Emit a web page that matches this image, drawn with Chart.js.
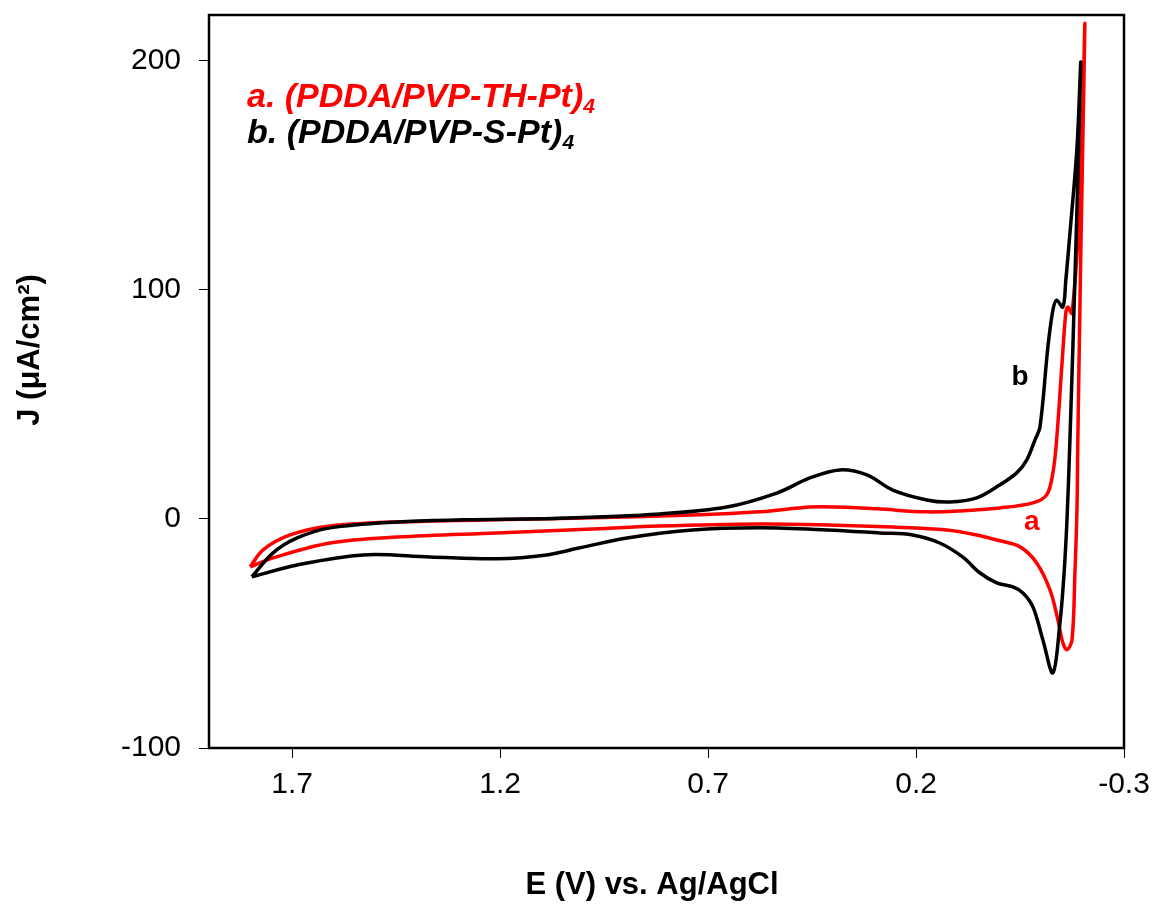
<!DOCTYPE html>
<html>
<head>
<meta charset="utf-8">
<script src="https://cdn.jsdelivr.net/npm/chart.js@4.4.0/dist/chart.umd.min.js"></script>
<style>
  body { margin: 0; background: #fff; }
  #cv { display: block; }
</style>
</head>
<body>
<canvas id="cv" width="1156" height="904"></canvas>
<script>
// ---- data (E in V vs Ag/AgCl, J in uA/cm2) ----
// curve a, (PDDA/PVP-TH-Pt)4 : forward (upper) branch then return (lower) branch
const aFwdE = [1.801, 1.770, 1.705, 1.609, 1.448, 1.008, 0.737, 0.575, 0.455, 0.390, 0.294, 0.174, 0.095, -0.001, -0.081, -0.114, -0.129, -0.138, -0.151, -0.160, -0.165, -0.175, -0.194, -0.206];
const aFwdJ = [-20.9, -13.5, -7.0, -3.1, -1.3, 0.4, 1.7, 3.1, 5.2, 5.2, 4.4, 3.1, 3.5, 4.8, 7.0, 10.5, 20.1, 34.5, 68.0, 89.8, 92.5, 89.8, 139.1, 216.3];
const aRevE = [-0.206, -0.197, -0.189, -0.187, -0.182, -0.175, -0.163, -0.153, -0.141, -0.122, -0.090, -0.050, 0.006, 0.054, 0.126, 0.256, 0.414, 0.575, 0.816, 1.008, 1.208, 1.448, 1.609, 1.746, 1.801];
const aRevJ = [216.3, 125.0, 34.5, 4.8, -23.5, -52.8, -57.1, -54.1, -44.0, -31.0, -19.2, -12.2, -9.2, -7.0, -4.8, -3.5, -2.6, -2.2, -3.1, -4.6, -6.1, -7.9, -10.5, -17.0, -20.9];

// curve b, (PDDA/PVP-S-Pt)4
const bFwdE = [1.797, 1.746, 1.688, 1.609, 1.448, 1.289, 1.056, 0.816, 0.655, 0.535, 0.455, 0.383, 0.318, 0.256, 0.174, 0.119, 0.054, -0.001, -0.042, -0.066, -0.086, -0.098, -0.117, -0.129, -0.138, -0.153, -0.160, -0.170, -0.187, -0.196];
const bFwdJ = [-25.3, -14.8, -8.3, -3.9, -1.3, -0.4, 0.3, 2.2, 5.2, 11.3, 17.9, 21.4, 19.2, 12.6, 8.3, 7.4, 9.2, 14.8, 20.1, 25.7, 34.5, 40.1, 75.0, 91.1, 95.5, 92.5, 104.0, 124.7, 162.2, 198.9];
const bRevE = [-0.196, -0.184, -0.170, -0.163, -0.156, -0.146, -0.129, -0.105, -0.081, -0.057, -0.033, 0.006, 0.047, 0.088, 0.143, 0.208, 0.287, 0.414, 0.575, 0.737, 0.895, 1.008, 1.088, 1.208, 1.369, 1.530, 1.688, 1.797];
const bRevJ = [198.9, 117.0, 34.5, 0.0, -23.5, -45.4, -67.2, -52.8, -38.4, -32.3, -29.7, -27.9, -23.5, -16.6, -10.5, -7.0, -6.1, -4.8, -3.9, -4.8, -8.3, -12.6, -15.7, -17.4, -16.6, -15.7, -20.1, -25.3];

const xTicks = [1.7, 1.2, 0.7, 0.2, -0.3];
const yTicks = [-100, 0, 100, 200];

const FONT = "'Liberation Sans', Arial, sans-serif";

function toPoints(es, js) {
    return es.map((e, i) => ({ x: e, y: js[i] }));
}

// Axis titles, frame, legend text and curve labels
const decor = {
    id: 'decor',
    afterDraw(chart) {
        const { ctx, chartArea: a, scales: { x, y } } = chart;
        ctx.save();
        // box
        ctx.strokeStyle = '#000';
        ctx.lineWidth = 2.5;
        ctx.strokeRect(a.left, a.top, a.right - a.left, a.bottom - a.top);

        // axis titles
        ctx.fillStyle = '#000';
        ctx.font = 'bold 31px ' + FONT;
        ctx.textAlign = 'center';
        ctx.textBaseline = 'middle';
        ctx.fillText('E (V) vs. Ag/AgCl', 652, 885);
        ctx.save();
        ctx.translate(30, 350);
        ctx.rotate(-Math.PI / 2);
        ctx.fillText('J (\u03bcA/cm\u00b2)', 0, 0);
        ctx.restore();

        // legend lines with subscript
        ctx.textAlign = 'left';
        ctx.textBaseline = 'alphabetic';
        const legend = [
            { text: 'a. (PDDA/PVP-TH-Pt)', color: '#ff0000', base: 107 },
            { text: 'b. (PDDA/PVP-S-Pt)', color: '#000000', base: 143 }
        ];
        legend.forEach(l => {
            ctx.fillStyle = l.color;
            ctx.font = 'italic bold 34px ' + FONT;
            ctx.fillText(l.text, 247, l.base);
            const w = ctx.measureText(l.text).width;
            ctx.font = 'italic bold 21px ' + FONT;
            ctx.fillText('4', 247 + w, l.base + 6);
        });

        // curve labels
        ctx.font = 'bold 28px ' + FONT;
        ctx.textAlign = 'center';
        ctx.textBaseline = 'middle';
        ctx.fillStyle = '#000';
        ctx.fillText('b', x.getPixelForValue(-0.05), y.getPixelForValue(62));
        ctx.fillStyle = '#ff0000';
        ctx.fillText('a', x.getPixelForValue(-0.078), y.getPixelForValue(-1.5));
        ctx.restore();
    }
};

const ctx = document.getElementById('cv').getContext('2d');
new Chart(ctx, {
    type: 'scatter',
    data: {
        datasets: [{
            label: 'a. (PDDA/PVP-TH-Pt)4',
            data: toPoints(aFwdE, aFwdJ).concat(toPoints(aRevE, aRevJ).slice(1)),
            borderColor: '#ff0000',
            borderWidth: 3.5,
            showLine: true,
            pointRadius: 0,
            tension: 0.35,
            order: 1
        }, {
            label: 'b. (PDDA/PVP-S-Pt)4',
            data: toPoints(bFwdE, bFwdJ).concat(toPoints(bRevE, bRevJ).slice(1)),
            borderColor: '#000000',
            borderWidth: 3.5,
            showLine: true,
            pointRadius: 0,
            tension: 0.35,
            order: 0
        }]
    },
    options: {
        responsive: false,
        devicePixelRatio: 1,
        animation: false,
        layout: { padding: { left: 0, right: 32, top: 15, bottom: 0 } },
        plugins: {
            legend: { display: false },
            tooltip: { enabled: false }
        },
        scales: {
            x: {
                type: 'linear',
                reverse: true,
                min: -0.3,
                max: 1.9,
                afterBuildTicks: s => { s.ticks = xTicks.map(v => ({ value: v })); },
                afterFit: s => { s.height = 156; s.paddingLeft = 0; s.paddingRight = 0; },
                border: { display: false },
                grid: { drawOnChartArea: false, drawTicks: true, tickLength: 10, color: '#000', lineWidth: 1 },
                ticks: {
                    color: '#000',
                    font: { family: FONT, size: 30 },
                    padding: 9,
                    maxRotation: 0,
                    callback: v => String(v)
                }
            },
            y: {
                type: 'linear',
                min: -100,
                max: 220,
                afterBuildTicks: s => { s.ticks = yTicks.map(v => ({ value: v })); },
                afterFit: s => { s.width = 209; s.paddingTop = 0; s.paddingBottom = 0; },
                border: { display: false },
                grid: { drawOnChartArea: false, drawTicks: true, tickLength: 10, color: '#000', lineWidth: 1 },
                ticks: {
                    color: '#000',
                    font: { family: FONT, size: 30 },
                    padding: 18,
                    callback: v => String(v)
                }
            }
        }
    },
    plugins: [decor]
});
</script>
</body>
</html>
